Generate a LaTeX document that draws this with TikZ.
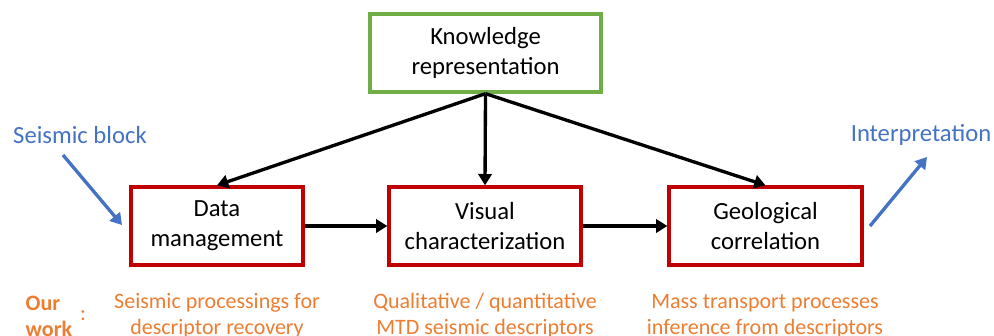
\documentclass[tikz,border=0pt]{standalone}
\usepackage{fontspec}
\setmainfont{Carlito}
\usetikzlibrary{arrows.meta}
\definecolor{boxred}{RGB}{192,0,0}
\definecolor{boxgreen}{RGB}{112,173,71}
\definecolor{flowblue}{RGB}{68,114,196}
\definecolor{workorange}{RGB}{237,125,49}
\tikzset{
  stage/.style={draw=boxred, line width=2.5pt, fill=white, align=center,
    inner sep=2pt, minimum height=58.5pt, font=\fontsize{18.5}{22.5}\selectfont},
  link/.style={line width=2.5pt, -{Triangle[length=8.5pt,width=10pt]}},
  flow/.style={draw=flowblue, line width=2.5pt, -{Triangle[length=8.5pt,width=10pt]}},
  bluetext/.style={text=flowblue, font=\fontsize{18.5}{22.5}\selectfont},
  worktext/.style={text=workorange, align=center, font=\fontsize{16.5}{19.5}\selectfont},
}
\begin{document}
\begin{tikzpicture}[x=0.75pt, y=-0.75pt]
    \useasboundingbox (0,0) rectangle (994,335);

    % Boxes
    \node[stage, draw=boxgreen, minimum width=173.25pt] (know) at (485.5,53) {Knowledge\\representation};
    \node[stage, minimum width=129pt] (data) at (217,226) {Data\\management};
    \node[stage, minimum width=144pt] (visual) at (485,226) {Visual\\characterization};
    \node[stage, minimum width=144.75pt] (geo) at (765.5,226) {Geological\\correlation};

    % Arrows between boxes
    \draw[link] (know.south) -- (data.north);
    \draw[link] (know.south) -- (visual.north);
    \draw[link] (know.south) -- (geo.north);
    \draw[link] (data.east) -- (visual.west);
    \draw[link] (visual.east) -- (geo.west);

    % Input / output
    \node[bluetext] (seismic) at (80,135) {Seismic block};
    \coordinate (inStart) at (63,155);
    \coordinate (inEnd) at (122,225);
    \draw[flow] (inStart) -- (inEnd);

    \node[bluetext] (interp) at (921,135) {Interpretation};
    \coordinate (outStart) at (870,226);
    \coordinate (outEnd) at (927,157);
    \draw[flow] (outStart) -- (outEnd);

    % Our work
    \node[worktext, align=left, anchor=west, font=\fontsize{16.5}{19.5}\selectfont\bfseries] (our) at (21,316) {Our\\work};
    \node[worktext] (colon) at (83,316) {:};
    \node[worktext] (workData) at (217,316) {Seismic processings for\\descriptor recovery};
    \node[worktext] (workVisual) at (485,316) {Qualitative / quantitative\\MTD seismic descriptors};
    \node[worktext] (workGeo) at (765,316) {Mass transport processes\\inference from descriptors};
\end{tikzpicture}
\end{document}
